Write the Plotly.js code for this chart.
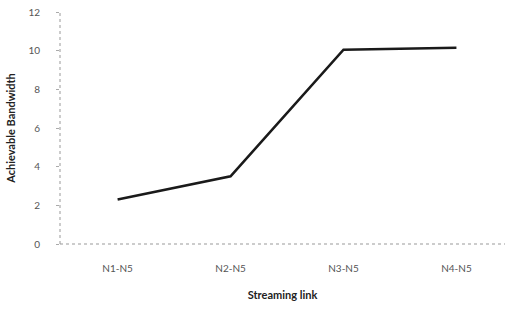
<!DOCTYPE html>
<html><head><meta charset="utf-8">
<script src="https://cdn.plot.ly/plotly-3.0.1.min.js"></script>
<style>html,body{margin:0;padding:0;background:#fff}</style>
</head><body>
<div id="chart" style="width:509px;height:313px"></div>
<script>
const categories = ["N1-N5", "N2-N5", "N3-N5", "N4-N5"];
const bandwidth = [2.3, 3.5, 10.05, 10.15];
const yTicks = [0, 2, 4, 6, 8, 10, 12];

const trace = {
  x: categories, y: bandwidth, type: 'scatter', mode: 'lines',
  line: {color: '#1a1a1a', width: 2.6}, hoverinfo: 'skip'
};
const layout = {
  width: 509, height: 313,
  margin: {l: 60, r: 4, t: 12, b: 69},
  paper_bgcolor: '#fff', plot_bgcolor: '#fff',
  showlegend: false,
  font: {family: 'Lato, "Open Sans", sans-serif', color: '#555', size: 10},
  xaxis: {
    type: 'category', range: [-0.51, 3.43],
    showgrid: false, zeroline: false, showline: false, ticks: '',
    ticklabelstandoff: 17,
    tickfont: {size: 10, color: '#555'},
    title: {text: 'Streaming link', font: {size: 11, color: '#222', family: 'Lato, sans-serif', weight: 'bold'}, standoff: 18}
  },
  yaxis: {
    range: [0, 12], tickvals: yTicks, ticktext: yTicks.map(String),
    showgrid: false, zeroline: false, showline: false,
    ticks: 'outside', ticklen: 3, tickcolor: '#aaa', ticklabelstandoff: 14,
    tickfont: {size: 10, color: '#555'},
    title: {text: 'Achievable Bandwidth', font: {size: 11, color: '#222', family: 'Lato, sans-serif', weight: 'bold'}, standoff: 10}
  },
  shapes: [
    {type: 'line', xref: 'paper', yref: 'paper', x0: 0, x1: 1, y0: 0, y1: 0, line: {color: '#999', width: 1, dash: 'dot'}},
    {type: 'line', xref: 'paper', yref: 'paper', x0: 0, x1: 0, y0: 0, y1: 1, line: {color: '#999', width: 1, dash: 'dot'}}
  ]
};
Plotly.newPlot('chart', [trace], layout, {displayModeBar: false, staticPlot: true});
</script>
</body></html>
